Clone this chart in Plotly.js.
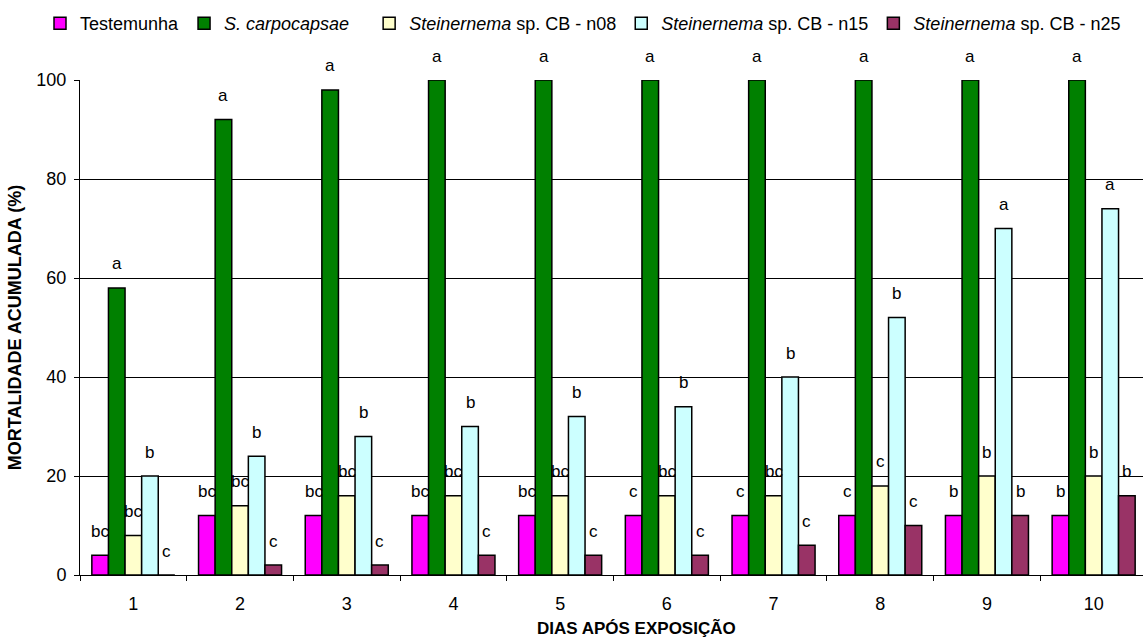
<!DOCTYPE html>
<html>
<head>
<meta charset="utf-8">
<script src="https://cdn.plot.ly/plotly-3.0.1.min.js"></script>
<style>html,body{margin:0;padding:0;background:#fff;}#chart{width:1143px;height:639px;}</style>
</head>
<body>
<div id="chart"></div>
<script>
const days = ['1','2','3','4','5','6','7','8','9','10'];
const seriesNames = ['Testemunha', '<i>S. carpocapsae</i>\u00a0\u00a0\u00a0', '<i>Steinernema</i> sp. CB - n08', '<i>Steinernema</i> sp. CB - n15', '<i>Steinernema</i> sp. CB - n25'];
const testemunha = [4, 12, 12, 12, 12, 12, 12, 12, 12, 12];
const carpocapsae = [58, 92, 98, 100, 100, 100, 100, 100, 100, 100];
const n08 = [8, 14, 16, 16, 16, 16, 16, 18, 20, 20];
const n15 = [20, 24, 28, 30, 32, 34, 40, 52, 70, 74];
const n25 = [0, 2, 2, 4, 4, 4, 6, 10, 12, 16];
const lettersTestemunha = ['bc','bc','bc','bc','bc','c','c','c','b','b'];
const lettersCarpocapsae = ['a','a','a','a','a','a','a','a','a','a'];
const lettersN08 = ['bc','bc','bc','bc','bc','bc','bc','c','b','b'];
const lettersN15 = ['b','b','b','b','b','b','b','b','a','a'];
const lettersN25 = ['c','c','c','c','c','c','c','c','b','b'];
const colors = ['#FF00FF', '#008000', '#FFFFCC', '#CCFFFF', '#993366'];

const values = [testemunha, carpocapsae, n08, n15, n25];
const letters = [lettersTestemunha, lettersCarpocapsae, lettersN08, lettersN15, lettersN25];

const W = 1143, H = 639;
const margin = {l: 80, r: 0, t: 80, b: 64};
const plotW = W - margin.l - margin.r;
const plotH = H - margin.t - margin.b;
const catPx = 106.7;
const xMax = -0.5 + plotW / catPx;
const bargap = 0.222;
const barPx = (1 - bargap) * catPx / 5;

const font = 'Arial, "Liberation Sans", sans-serif';

const traces = values.map((v, i) => ({
  type: 'bar',
  name: seriesNames[i],
  x: days,
  y: v,
  marker: {color: colors[i], line: {color: '#000', width: 1.5}},
  hoverinfo: 'x+y+name'
}));

const annotations = [];
values.forEach((v, i) => {
  v.forEach((val, j) => {
    annotations.push({
      x: j, y: val, xref: 'x', yref: 'y',
      text: letters[i][j], showarrow: false,
      xshift: (i - 2) * barPx, yshift: 24,
      font: {family: font, size: 17, color: '#000'}
    });
  });
});
annotations.push({
  xref: 'paper', yref: 'paper', x: (636 - margin.l) / plotW, y: -(628 - (H - margin.b)) / plotH,
  xanchor: 'center', yanchor: 'middle',
  text: '<b>DIAS APÓS EXPOSIÇÃO</b>', showarrow: false,
  font: {family: font, size: 17, color: '#000'}
});

const layout = {
  width: W, height: H,
  margin: margin,
  paper_bgcolor: '#fff', plot_bgcolor: '#fff',
  font: {family: font, color: '#000'},
  barmode: 'group', bargap: bargap, bargroupgap: 0,
  showlegend: true,
  legend: {
    orientation: 'h', x: (40 - margin.l) / plotW, xanchor: 'left', y: 1 + (80 - 5) / plotH, yanchor: 'top',
    font: {family: font, size: 18, color: '#000'},
    itemwidth: 30, tracegroupgap: 0, bgcolor: 'rgba(0,0,0,0)'
  },
  xaxis: {
    type: 'category', range: [-0.5, xMax],
    tickson: 'boundaries', ticks: 'outside', ticklen: 5, tickcolor: '#000',
    ticklabelstandoff: 12,
    showline: true, linecolor: '#000', linewidth: 1,
    showgrid: false, zeroline: false,
    tickfont: {family: font, size: 18, color: '#000'}
  },
  yaxis: {
    range: [0, 100], dtick: 20, tick0: 0,
    ticks: 'outside', ticklen: 5, tickcolor: '#000',
    ticklabelstandoff: 4,
    showline: true, linecolor: '#000', linewidth: 1,
    showgrid: true, gridcolor: '#000', gridwidth: 1, zeroline: false,
    tickfont: {family: font, size: 18, color: '#000'},
    title: {text: '<b>MORTALIDADE ACUMULADA (%)</b>', font: {family: font, size: 18, color: '#000'}, standoff: 10}
  },
  annotations: annotations
};

Plotly.newPlot('chart', traces, layout, {displayModeBar: false, staticPlot: true});
</script>
</body>
</html>
